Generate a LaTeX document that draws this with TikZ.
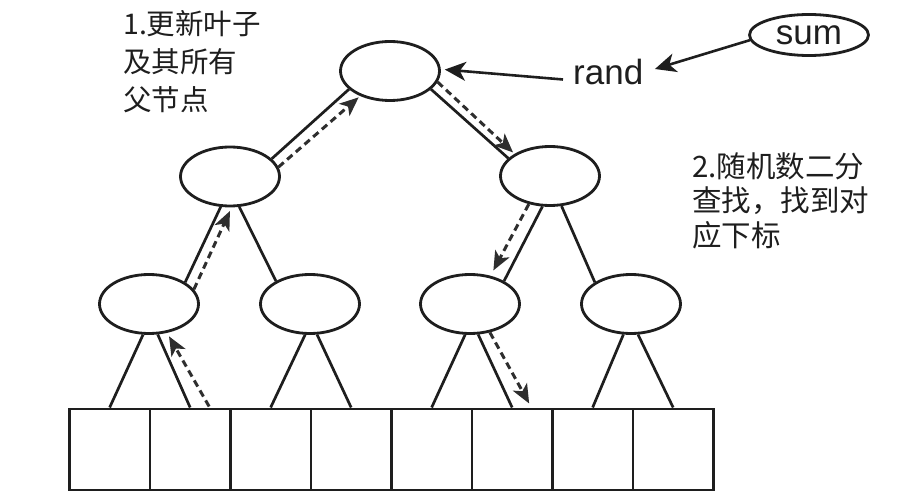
\documentclass[tikz,border=0pt]{standalone}
\usepackage{fontspec}
\setmainfont{Liberation Sans}
\newfontfamily\cjk{Noto Sans CJK SC}
\usetikzlibrary{shapes.geometric,arrows.meta,calc}
\definecolor{ink}{HTML}{1E1E1E}
\definecolor{arr}{HTML}{2E2E2E}
\begin{document}
\begin{tikzpicture}[x=1pt,y=-1pt,
  tnode/.style={ellipse,draw=ink,line width=2.8pt,minimum width=99pt,minimum height=59pt,inner sep=0pt},
  cell/.style={rectangle,draw=ink,line width=2.8pt,minimum width=80.5pt,minimum height=81pt,inner sep=0pt,anchor=north west},
  edge/.style={draw=ink,line width=2.7pt},
  walk/.style={draw=arr,line width=3pt,dash pattern=on 7pt off 4.5pt,-{Stealth[length=19pt,width=16pt,inset=5pt]}},
  pointer/.style={draw=ink,line width=2.6pt,-{Stealth[length=21pt,width=19pt,inset=6pt]}},
  note/.style={anchor=north west,inner sep=0pt,align=left,text=ink}]
\useasboundingbox (0,0) rectangle (906,497);

% tree nodes
\node[tnode] (root) at (390,71) {};
\node[tnode] (L2a) at (230,176.5) {};
\node[tnode] (L2b) at (550,176) {};
\node[tnode] (L3a) at (149,304) {};
\node[tnode] (L3b) at (310,304) {};
\node[tnode] (L3c) at (470,304) {};
\node[tnode] (L3d) at (631,304) {};

% array cells
\foreach \i in {1,...,8}
  \node[cell] (c\i) at ({68+80.5*(\i-1)},407.5) {};

% sum and rand
\node[ellipse,draw=ink,line width=2.8pt,minimum width=119pt,minimum height=41pt,inner sep=0pt,
      font=\fontsize{35}{35}\selectfont,text=ink] (sum) at (809,35) {sum};
\node[anchor=base west,inner sep=0pt,font=\fontsize{35}{35}\selectfont,text=ink] (rand) at (573,85) {rand};

% tree edges
\draw[edge] (root.-156) -- (L2a.23);
\draw[edge] (root.-24) -- (L2b.157);
\draw[edge] (L2a.-107) -- (L3a.31);
\draw[edge] (L2a.-73) -- (L3b.146);
\draw[edge] (L2b.-104) -- (L3c.34);
\draw[edge] (L2b.-69) -- (L3d.149);
\draw[edge] (L3a.-101) -- (c1.north);
\draw[edge] (L3a.-74) -- (c2.north);
\draw[edge] (L3b.-99) -- (c3.north);
\draw[edge] (L3b.-77) -- (c4.north);
\draw[edge] (L3c.-99) -- (c5.north);
\draw[edge] (L3c.-75) -- (c6.north);
\draw[edge] (L3d.-104) -- (c7.north);
\draw[edge] (L3d.-77) -- (c8.north);

% update path (upward)
\draw[walk,shorten >=4pt] ($(c2.north)+(19,-1)$) -- (L3a.-58);
\draw[walk,shorten >=4pt] (L3a.18) -- (L2a.-87);
\draw[walk,shorten >=2pt] (L2a.11) -- (root.-140);

% search path (downward)
\draw[walk,shorten >=2pt] (root.-13) -- (L2b.148);
\draw[walk,shorten >=6pt] (L2b.-127) -- (L3c.54);
\draw[walk] (L3c.-55) -- ($(c6.north)+(17,-4)$);

% rand pointers
\draw[pointer,shorten >=4pt] ($(rand.west)+(-10,7)$) -- (root.2);
\draw[pointer,shorten >=12pt] (sum.185) -- (rand.east);

% notes
\node[note,font=\cjk\fontsize{28.5}{38}\selectfont] (note1) at (123,10) {1.更新叶子\\及其所有\\父节点};
\node[note,font=\cjk\fontsize{29.5}{34.5}\selectfont] (note2) at (692,152) {2.随机数二分\\查找，找到对\\应下标};
\end{tikzpicture}
\end{document}
